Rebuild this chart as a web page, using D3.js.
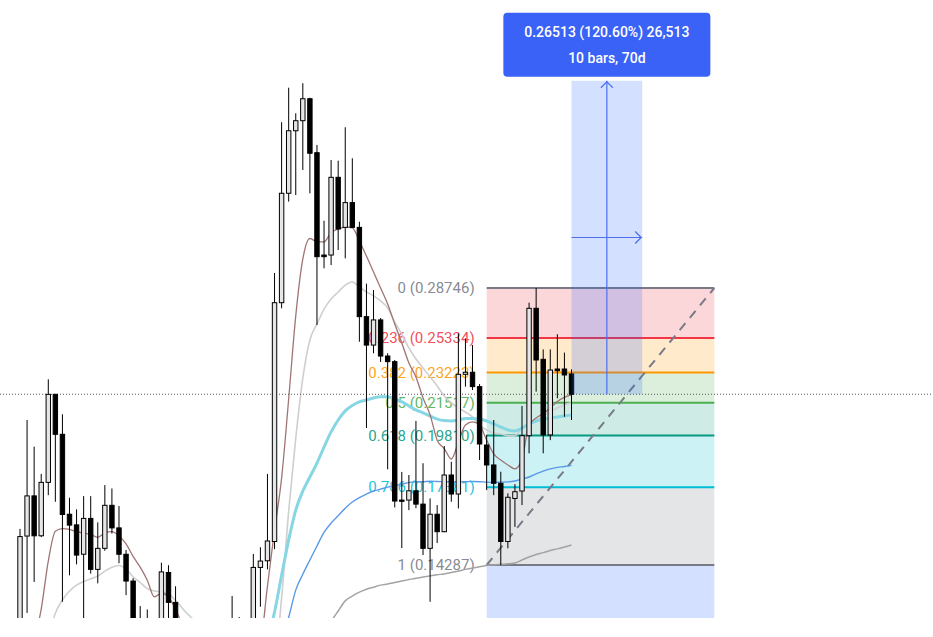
<!DOCTYPE html>
<html><head><meta charset="utf-8">
<script src="https://cdn.jsdelivr.net/npm/d3@7"></script>
<style>html,body{margin:0;padding:0;background:#fff;overflow:hidden}svg{display:block}</style>
</head><body><svg id="c" width="933" height="637"></svg>
<script>
// ---- candle data (bar index = position in arrays) ----
const opens=[
0.1153,0.1537,0.1701,0.1538,0.1760,0.2198,0.1987,0.1624,0.1581,0.1468,
0.1607,0.1413,0.1490,0.1661,0.1569,0.1468,0.1372,0.1227,0.1182,0.1218,
0.1212,0.1402,0.1300,0.1197,0.1160,0.1140,0.1175,0.1150,0.1130,0.1165,
0.1150,0.1190,0.1210,0.1225,0.1420,0.1444,0.1516,0.2770,0.3651,0.4275,
0.4385,0.4635,0.4045,0.3124,0.3124,0.3801,0.3350,0.3566,0.3350,0.2674,
0.2489,0.2652,0.2421,0.2387,0.1683,0.1683,0.1723,0.1666,0.1490,0.1624,
0.1554,0.1793,0.1709,0.2312,0.2324,0.2241,0.1934,0.1839,0.1756,0.1516,
0.1690,0.1722,0.1980,0.2731,0.2401,0.1984,0.2343,0.2343,0.2314];
const highs=[
0.1565,0.2060,0.1926,0.1798,0.2283,0.2200,0.2090,0.1693,0.1644,0.1700,
0.1700,0.1591,0.1748,0.1733,0.1658,0.1484,0.1382,0.1288,0.1277,0.1237,
0.1437,0.1428,0.1354,0.1225,0.1200,0.1210,0.1215,0.1190,0.1200,0.1220,
0.1321,0.1253,0.1240,0.1469,0.1494,0.1798,0.2986,0.4368,0.4766,0.4468,
0.4820,0.4647,0.4124,0.3407,0.3971,0.3964,0.4313,0.3988,0.3398,0.2906,
0.2860,0.2665,0.2438,0.2397,0.1807,0.1793,0.2055,0.1847,0.1690,0.1662,
0.1929,0.1854,0.2564,0.2531,0.2489,0.2256,0.1984,0.2060,0.1808,0.1712,
0.1752,0.2134,0.2770,0.28746,0.2462,0.2462,0.2558,0.2442,0.2341];
const lows=[
0.1070,0.1266,0.1369,0.1533,0.1704,0.1676,0.1302,0.1392,0.1431,0.1227,
0.1398,0.1364,0.1481,0.1547,0.1435,0.1324,0.1182,0.1124,0.1138,0.1124,
0.1182,0.1227,0.1167,0.1120,0.1100,0.1110,0.1120,0.1090,0.1100,0.1120,
0.1110,0.1150,0.1170,0.1200,0.1286,0.1413,0.1487,0.2731,0.3575,0.3635,
0.3872,0.3651,0.2618,0.3021,0.3046,0.3164,0.3098,0.3345,0.2510,0.2019,
0.2438,0.2385,0.1819,0.1652,0.1491,0.1641,0.1649,0.1465,0.1302,0.1510,
0.1552,0.1676,0.1648,0.2241,0.2222,0.1862,0.1726,0.1704,0.14287,0.1490,
0.1573,0.1662,0.1894,0.2213,0.1894,0.1958,0.2176,0.2077,0.2060];
const closes=[
0.1535,0.1701,0.1538,0.1760,0.2198,0.1987,0.1623,0.1580,0.1465,0.1607,
0.1413,0.1490,0.1661,0.1569,0.1468,0.1372,0.1218,0.1182,0.1227,0.1182,
0.1404,0.1300,0.1197,0.1160,0.1140,0.1175,0.1150,0.1130,0.1165,0.1150,
0.1190,0.1210,0.1225,0.1420,0.1443,0.1518,0.2770,0.3651,0.4275,0.4385,
0.4635,0.4039,0.3111,0.3111,0.3801,0.3336,0.3566,0.3350,0.2674,0.2489,
0.2652,0.2421,0.2387,0.1679,0.1681,0.1723,0.1666,0.1490,0.1624,0.1554,
0.1793,0.1709,0.2312,0.2324,0.2241,0.1939,0.1839,0.1756,0.1516,0.1695,
0.1719,0.1980,0.2731,0.2397,0.1984,0.2337,0.2333,0.2308,0.21984];

// ---- moving averages (values read per bar, starting at given bar) ----
const maFastStart=2;
const maFast=[0.1180,0.1278,0.1443,0.1556,0.1566,0.1563,0.1554,0.1549,
0.1543,0.1532,0.1549,0.1554,0.1537,0.1507,0.1460,0.1421,0.1375,0.1318,
0.1331,0.1318,0.1278,0.1227,0.1190,0.1170,0.1160,0.1150,0.1150,0.1160,
0.1170,0.1175,0.1180,0.1170,0.1182,0.1355,0.1560,0.1779,0.2172,0.2679,
0.3093,0.3257,0.3231,0.3229,0.3307,0.3336,0.3353,0.3346,0.3237,0.3116,
0.2993,0.2875,0.2761,0.2625,0.2502,0.2379,0.2296,0.2178,0.2087,0.1958,
0.1917,0.1867,0.1948,0.2034,0.2050,0.2034,0.1958,0.1891,0.1862,0.1839,
0.1821,0.1867,0.2034,0.2071,0.2094,0.2123,0.2159,0.2181,0.2195];
const maMidStart=4;
const maMid=[0.1182,0.1265,0.1308,0.1338,0.1358,0.1370,
0.1380,0.1389,0.1407,0.1421,0.1427,0.1414,0.1387,0.1367,0.1346,0.1338,
0.1335,0.1329,0.1306,0.1280,0.1256,0.1237,0.1220,0.1200,0.1190,0.1180,
0.1170,0.1165,0.1160,0.1160,0.1150,0.1140,0.1124,0.1315,0.1637,0.1968,
0.2290,0.2521,0.2625,0.2726,0.2796,0.2846,0.2896,0.2918,0.2882,0.2846,
0.2818,0.2782,0.2733,0.2638,0.2559,0.2471,0.2403,0.2349,0.2296,0.2245,
0.2189,0.2151,0.2124,0.2102,0.2076,0.2034,0.2009,0.1994,0.1989,0.1979,
0.1979,0.2019,0.2039,0.2060,0.2081,0.2105,0.2124,0.2140,0.2151];
const maCyanStart=34;
const maCyan=[0.1140,0.1182,0.1269,0.1392,0.1522,0.1641,
0.1722,0.1784,0.1848,0.1924,0.1999,0.2060,0.2108,0.2137,0.2156,0.2167,
0.2178,0.2184,0.2184,0.2173,0.2156,0.2135,0.2113,0.2097,0.2081,0.2065,
0.2057,0.2055,0.2060,0.2068,0.2068,0.2065,0.2055,0.2040,0.2024,0.2009,
0.2004,0.2019,0.2040,0.2055,0.2063,0.2071,0.2076,0.2081,0.2087];
const maBlueStart=37;
const maBlue=[0.1182,0.1252,0.1341,
0.1396,0.1447,0.1499,0.1551,0.1588,0.1618,0.1649,0.1675,0.1694,0.1709,
0.1722,0.1730,0.1739,0.1746,0.1752,0.1759,0.1762,0.1763,0.1765,0.1764,
0.1763,0.1762,0.1762,0.1763,0.1764,0.1763,0.1761,0.1760,0.1761,0.1762,
0.1766,0.1775,0.1784,0.1798,0.1811,0.1821,0.1828,0.1832,0.1837];
const maSlowStart=43;
const maSlow=[0.1182,0.1237,0.1272,0.1305,0.1321,0.1334,0.1344,
0.1351,0.1358,0.1362,0.1367,0.1372,0.1377,0.1382,0.1386,0.1390,0.1394,
0.1397,0.1402,0.1407,0.1413,0.1418,0.1422,0.1427,0.1429,0.1431,0.1433,
0.1436,0.1447,0.1458,0.1467,0.1474,0.1482,0.1488,0.1495,0.1503];

// ---- fibonacci retracement ----
const fibHigh=0.28746, fibLow=0.14287;
const fibLevels=[0,0.236,0.382,0.5,0.618,0.786,1,1.618];
const fibLabels=["0 (0.28746)","0.236 (0.25334)","0.382 (0.23223)","0.5 (0.21517)","0.618 (0.19810)","0.786 (0.17381)","1 (0.14287)"];
const fibColors=["#787b86","#f23645","#ff9800","#4caf50","#089981","#00bcd4","#787b86","#2962ff"];
const fibStartBar=66, fibEndBar=98.2, fibLowBar=66, fibHighBar=98.2;

// ---- price / measurement ----
const lastPrice=0.21984;
const measureStartBar=78, measureEndBar=88, measureChange=0.26513;
const measureLines=["0.26513 (120.60%) 26,513","10 bars, 70d"];

const W=933,H=637,plotBottom=618;
const svg=d3.select('#c');
const x=d3.scaleLinear().domain([0,78]).range([20,571.5]);
const y=d3.scaleLog().domain([fibLow,fibHigh]).range([565,288]);

svg.append('defs').append('clipPath').attr('id','clip')
  .append('rect').attr('x',0).attr('y',0).attr('width',W).attr('height',plotBottom);
const g=svg.append('g').attr('clip-path','url(#clip)');

// fib fills
const fx0=x(fibStartBar), fx1=x(fibEndBar);
const fibPrice=l=>fibHigh-l*(fibHigh-fibLow);
const fills=d3.range(fibLevels.length-1).map(i=>({a:fibPrice(fibLevels[i]),b:fibPrice(fibLevels[i+1]),c:fibColors[i+1]}));
g.append('g').selectAll('rect').data(fills).join('rect')
  .attr('x',fx0).attr('width',fx1-fx0)
  .attr('y',d=>y(d.a)).attr('height',d=>y(d.b)-y(d.a))
  .attr('fill',d=>d.c).attr('fill-opacity',0.2);
// fib lines
g.append('g').selectAll('line').data(fibLevels.slice(0,7)).join('line')
  .attr('x1',fx0).attr('x2',fx1)
  .attr('y1',d=>y(fibPrice(d))).attr('y2',d=>y(fibPrice(d)))
  .attr('stroke',(d,i)=>fibColors[i]).attr('stroke-width',2);
// fib labels
g.append('g').selectAll('text').data(fibLabels).join('text')
  .attr('x',fx0-12).attr('y',(d,i)=>y(fibPrice(fibLevels[i])))
  .attr('text-anchor','end').attr('dominant-baseline','central')
  .attr('font-family','Roboto, sans-serif').attr('font-size',15)
  .attr('fill',(d,i)=>fibColors[i]).attr('fill-opacity',0.9)
  .text(d=>d);

// dashed trend line
g.append('line').attr('x1',x(fibLowBar)).attr('y1',y(fibLow))
  .attr('x2',x(fibHighBar)).attr('y2',y(fibHigh))
  .attr('stroke','#787b86').attr('stroke-width',2).attr('stroke-dasharray','9,7');

// moving averages
function drawMA(start,vals,color,w){
  const pts=vals.map((v,k)=>[start+k,v]);
  g.append('path').datum(pts)
    .attr('d',d3.line().x(d=>x(d[0])).y(d=>y(d[1])).curve(d3.curveMonotoneX))
    .attr('fill','none').attr('stroke',color).attr('stroke-width',w)
    .attr('stroke-linejoin','round');
}
drawMA(maSlowStart,maSlow,'#a3a3a3',1.5);
drawMA(maMidStart,maMid,'#cfcfcf',1.6);
drawMA(maBlueStart,maBlue,'#5a9ae6',1.4);
drawMA(maCyanStart,maCyan,'#86d6e4',3);
drawMA(maFastStart,maFast,'#a07474',1.3);

// current price dotted line
g.append('line').attr('x1',0).attr('x2',W).attr('y1',y(lastPrice)).attr('y2',y(lastPrice))
  .attr('stroke','#555').attr('stroke-width',1).attr('stroke-dasharray','1,2');

// candles
const candles=opens.map((o,i)=>({i,o,h:highs[i],l:lows[i],c:closes[i]}));
const cg=g.append('g');
cg.selectAll('line').data(candles).join('line')
  .attr('x1',d=>x(d.i)).attr('x2',d=>x(d.i))
  .attr('y1',d=>y(d.h)).attr('y2',d=>y(d.l))
  .attr('stroke','#000').attr('stroke-width',1);
cg.selectAll('rect').data(candles).join('rect')
  .attr('x',d=>x(d.i)-2.2).attr('width',4.4)
  .attr('y',d=>y(Math.max(d.o,d.c)))
  .attr('height',d=>Math.max(1.2,Math.abs(y(d.o)-y(d.c))))
  .attr('fill',d=>d.c>=d.o?'#e6e6e8':'#000')
  .attr('stroke','#000').attr('stroke-width',1);

// measurement box
const mx0=x(measureStartBar), mx1=x(measureEndBar), mxm=(mx0+mx1)/2;
const my0=y(lastPrice), my1=y(lastPrice+measureChange), mym=(my0+my1)/2;
svg.append('rect').attr('x',mx0).attr('y',my1).attr('width',mx1-mx0).attr('height',my0-my1)
  .attr('fill','#2962ff').attr('fill-opacity',0.2);
const ac='#4d6ff0';
svg.append('line').attr('x1',mxm).attr('x2',mxm).attr('y1',my0).attr('y2',my1).attr('stroke',ac).attr('stroke-width',1.2);
svg.append('polyline').attr('points',`${mxm-6},${my1+7} ${mxm},${my1+1} ${mxm+6},${my1+7}`)
  .attr('fill','none').attr('stroke',ac).attr('stroke-width',1.2);
svg.append('line').attr('x1',mx0).attr('x2',mx1).attr('y1',mym).attr('y2',mym).attr('stroke',ac).attr('stroke-width',1.2);
svg.append('polyline').attr('points',`${mx1-7},${mym-6} ${mx1-1},${mym} ${mx1-7},${mym+6}`)
  .attr('fill','none').attr('stroke',ac).attr('stroke-width',1.2);
// label
const lw=207, lh=64, ly=my1-4-lh;
svg.append('rect').attr('x',mxm-lw/2).attr('y',ly).attr('width',lw).attr('height',lh)
  .attr('rx',4).attr('fill','#3a62f6');
svg.append('g').selectAll('text').data(measureLines).join('text')
  .attr('x',mxm).attr('y',(d,i)=>ly+19+i*26)
  .attr('text-anchor','middle').attr('dominant-baseline','central')
  .attr('font-family','Roboto, sans-serif').attr('font-size',14).attr('font-weight',500)
  .attr('fill','#fff').text(d=>d);
</script></body></html>
